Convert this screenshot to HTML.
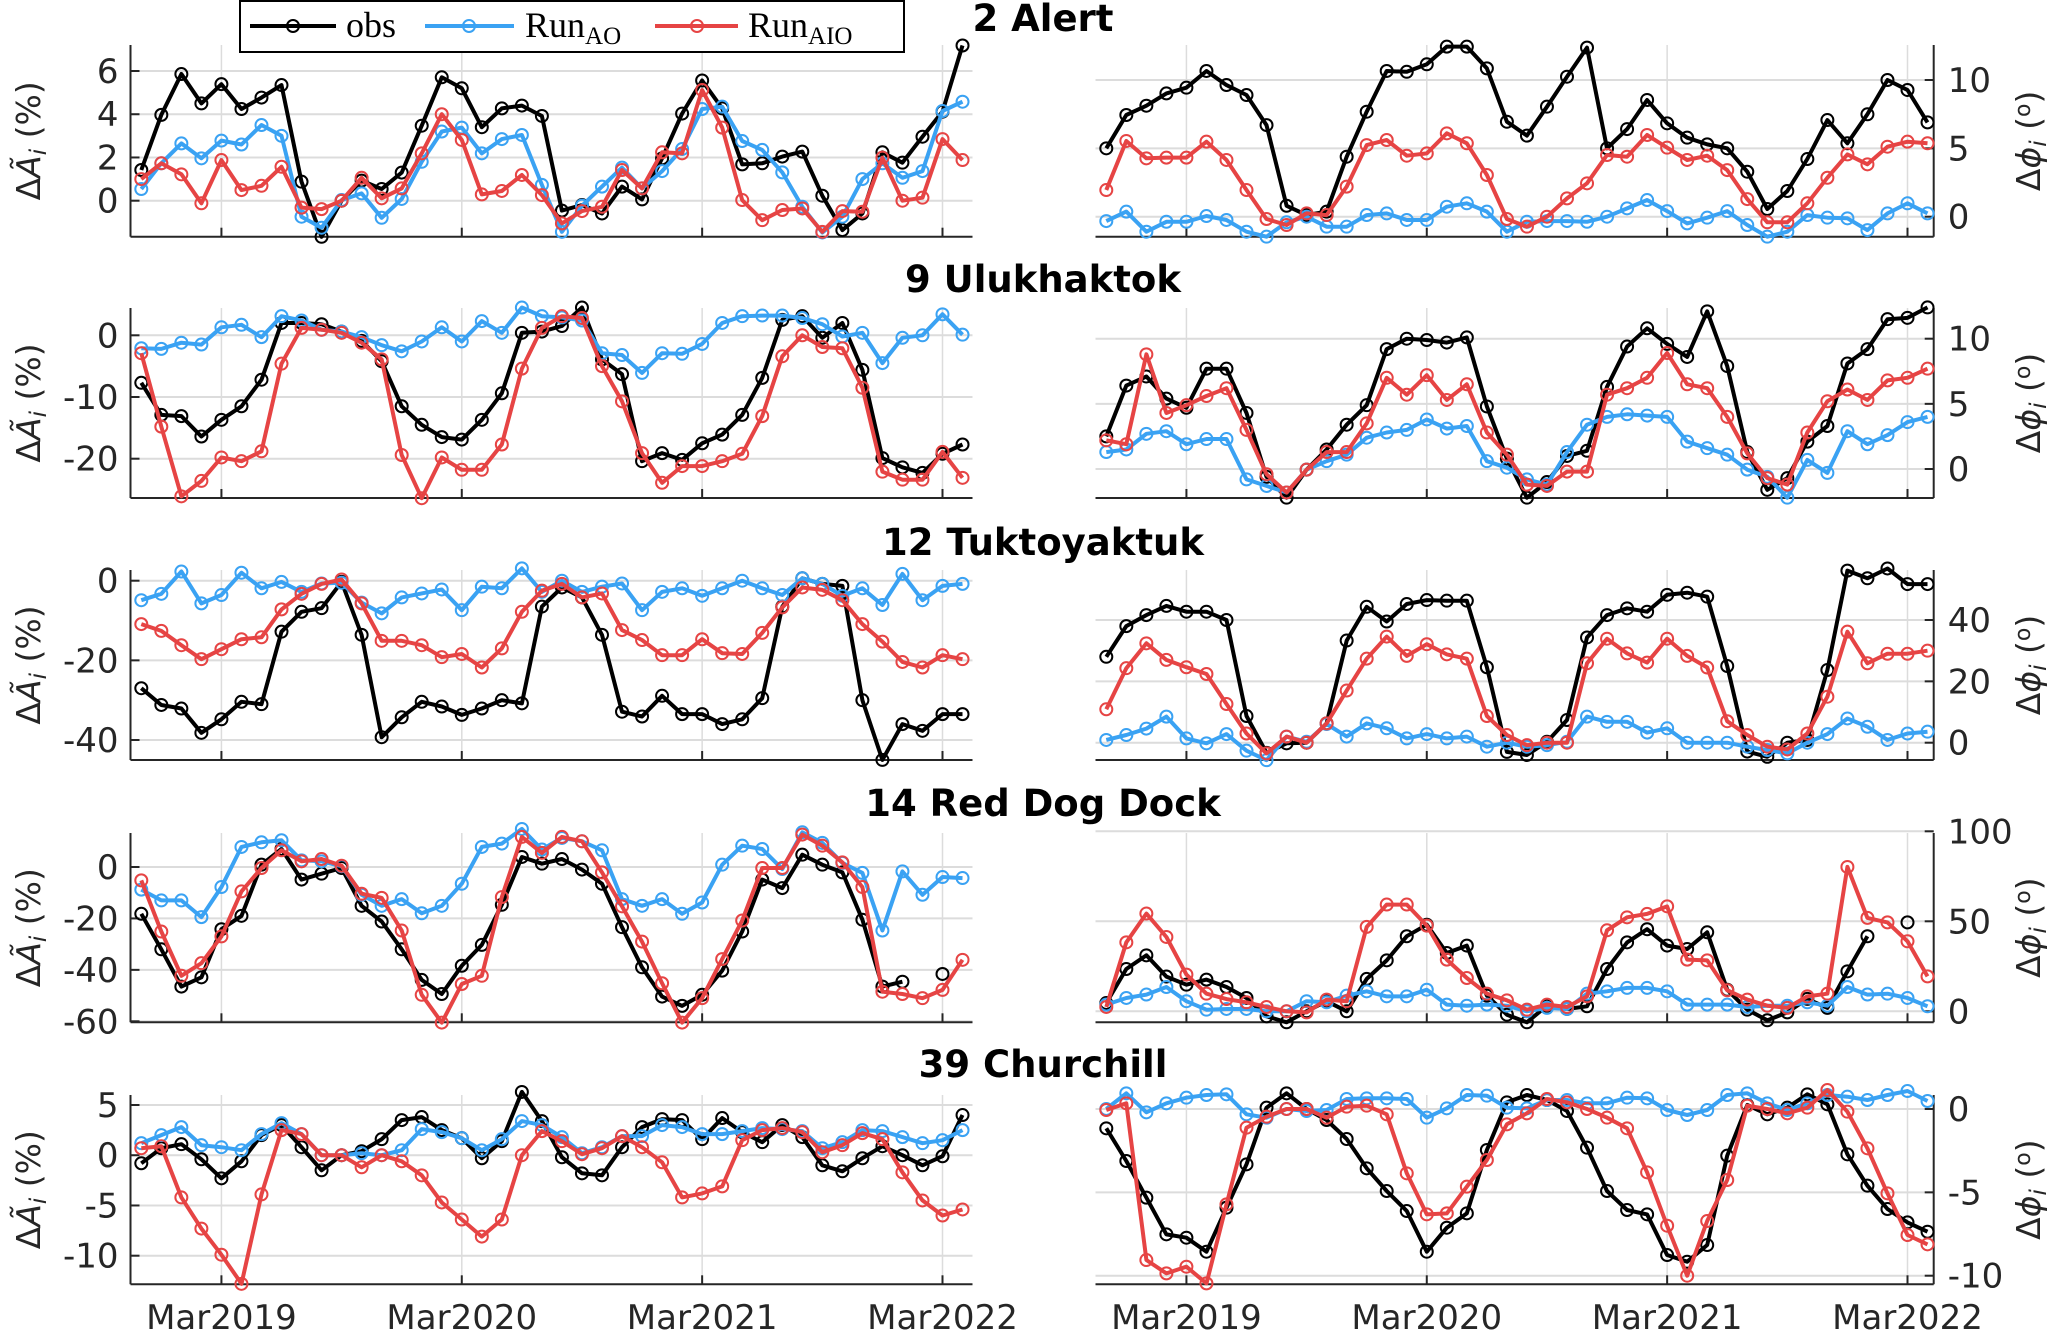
<!DOCTYPE html>
<html><head><meta charset="utf-8">
<style>
html,body{margin:0;padding:0;background:#fff;}
svg{display:block;}
text{font-family:"DejaVu Sans","Liberation Sans",sans-serif;}
</style></head>
<body>
<svg id="chart" xmlns="http://www.w3.org/2000/svg" width="2067" height="1332" viewBox="0 0 2067 1332">
  <g id="legend">
    <rect x="240" y="1" width="664" height="51" fill="#fff" stroke="#000" stroke-width="2"/>
    <g>
      <line x1="250" y1="26" x2="336" y2="26" stroke="#000" stroke-width="4"/>
      <circle cx="293" cy="26" r="6" fill="none" stroke="#000" stroke-width="2"/>
      <text x="346" y="37" style="font-family:'Liberation Serif',serif" font-size="36">obs</text>
    </g>
    <g>
      <line x1="425" y1="26" x2="514" y2="26" stroke="#3aa2f3" stroke-width="4"/>
      <circle cx="469" cy="26" r="6" fill="none" stroke="#3aa2f3" stroke-width="2"/>
      <text x="525" y="37" style="font-family:'Liberation Serif',serif" font-size="36">Run<tspan font-size="25" dy="7">AO</tspan></text>
    </g>
    <g>
      <line x1="655" y1="26" x2="738" y2="26" stroke="#e64444" stroke-width="4"/>
      <circle cx="697" cy="26" r="6" fill="none" stroke="#e64444" stroke-width="2"/>
      <text x="748" y="37" style="font-family:'Liberation Serif',serif" font-size="36">Run<tspan font-size="25" dy="7">AIO</tspan></text>
    </g>
  </g>
</svg>
<script>
// ---- data (month index 0 = Nov 2018) ----
const xTickMonths = [4, 16, 28, 40];
const xTickLabels = ['Mar2019', 'Mar2020', 'Mar2021', 'Mar2022'];
const stationNames = ['2 Alert', '9 Ulukhaktok', '12 Tuktoyaktuk', '14 Red Dog Dock', '39 Churchill'];

const alertAmpObs = [1.42,3.97,5.86,4.5,5.39,4.24,4.77,5.35,0.88,-1.67,0,0.93,0.54,1.3,3.47,5.71,5.2,3.4,4.27,4.4,3.92,-0.46,-0.2,-0.59,0.65,0.06,1.96,4.03,5.56,4.27,1.68,1.73,2.04,2.27,0.23,-1.36,-0.59,2.24,1.76,2.96,4.12,7.18];
const alertAmpAO = [0.54,1.73,2.65,1.96,2.78,2.6,3.5,3.0,-0.74,-1.25,0.03,0.34,-0.79,0.08,1.8,3.2,3.38,2.19,2.85,3.04,0.73,-1.44,-0.23,0.65,1.53,0.57,1.37,2.39,4.24,4.35,2.76,2.35,1.31,-0.28,-1.47,-0.74,1.0,1.73,1.06,1.37,4.15,4.58];
const alertAmpAIO = [1.0,1.73,1.22,-0.12,1.88,0.49,0.69,1.57,-0.32,-0.39,0,1.06,0.11,0.57,2.19,4.0,2.81,0.29,0.45,1.19,0.26,-1.05,-0.48,-0.28,1.42,0.57,2.24,2.19,5.12,3.38,0.03,-0.9,-0.43,-0.36,-1.44,-0.48,-0.51,1.99,0,0.14,2.85,1.88];
const alertPhaObs = [5.0,7.44,8.12,9.02,9.44,10.66,9.63,8.9,6.7,0.8,0.12,0.37,4.39,7.68,10.66,10.6,11.15,12.44,12.44,10.85,6.95,5.93,8.05,10.24,12.37,5.0,6.41,8.54,6.83,5.78,5.29,5.0,3.29,0.56,1.88,4.22,7.07,5.37,7.49,10.0,9.27,6.9];
const alertPhaAO = [-0.32,0.37,-1.1,-0.37,-0.37,0.05,-0.24,-1.1,-1.46,-0.41,0,-0.73,-0.73,0.12,0.24,-0.24,-0.24,0.73,0.98,0.37,-1.1,-0.37,-0.32,-0.32,-0.37,0,0.61,1.22,0.41,-0.49,-0.07,0.41,-0.61,-1.46,-1.1,0.12,-0.07,-0.12,-0.98,0.24,0.98,0.24];
const alertPhaAIO = [1.95,5.54,4.27,4.32,4.32,5.49,4.15,1.95,-0.17,-0.61,0.24,0.12,2.2,5.24,5.61,4.46,4.63,6.1,5.37,3.05,-0.17,-0.73,0,1.34,2.44,4.51,4.39,5.98,5.05,4.15,4.46,3.41,1.29,-0.41,-0.41,0.98,2.85,4.56,3.83,5.12,5.49,5.37];

const uluAmpObs = [-7.7,-12.9,-13.1,-16.4,-13.7,-11.5,-7.2,2.0,2.0,1.8,0.6,-0.9,-4.2,-11.5,-14.5,-16.5,-16.9,-13.7,-9.4,0.4,0.6,1.5,4.5,-3.9,-6.3,-20.4,-19.1,-20.2,-17.5,-16.1,-12.9,-6.9,2.5,3.1,-0.4,2.0,-5.6,-19.9,-21.4,-22.3,-19.2,-17.7];
const uluAmpAO = [-2.1,-2.2,-1.2,-1.5,1.3,1.7,-0.3,3.1,2.4,0.9,0.6,-0.3,-1.6,-2.6,-1.0,1.3,-1.0,2.3,0.4,4.5,3.1,2.9,2.4,-2.9,-3.2,-6.1,-2.9,-3.0,-1.4,2.0,3.1,3.2,3.2,2.8,1.8,-0.2,0.4,-4.5,-0.4,0,3.4,0.1];
const uluAmpAIO = [-2.9,-14.8,-26.1,-23.6,-19.8,-20.4,-18.8,-4.6,1.2,0.9,0.4,-1.2,-3.9,-19.4,-26.4,-19.8,-21.8,-21.8,-17.7,-5.4,1.2,3.1,2.8,-5.0,-10.7,-19.1,-23.9,-21.2,-21.2,-20.4,-19.2,-13.1,-3.4,0,-1.9,-2.1,-8.5,-22.1,-23.4,-23.4,-18.9,-23.1];
const uluPhaObs = [2.5,6.4,7.1,5.4,4.7,7.7,7.7,4.3,-0.6,-2.2,-0.05,1.5,3.4,4.9,9.2,10.0,9.9,9.7,10.1,4.8,0.8,-2.2,-1.0,1.0,1.4,6.3,9.4,10.8,9.6,8.6,12.1,7.9,1.3,-1.6,-0.7,2.1,3.3,8.1,9.2,11.5,11.6,12.4];
const uluPhaAO = [1.3,1.5,2.7,2.9,1.9,2.3,2.3,-0.8,-1.3,-1.8,-0.05,0.6,1.1,2.4,2.8,3.0,3.8,3.1,3.3,0.6,0.1,-0.8,-1.2,1.3,3.4,4.0,4.2,4.1,4.0,2.1,1.6,1.1,-0.05,-0.6,-2.2,0.7,-0.3,2.9,1.9,2.6,3.6,4.0];
const uluPhaAIO = [2.2,1.9,8.8,4.3,4.9,5.6,6.2,3.0,-0.4,-1.8,-0.05,1.3,1.3,3.5,7.0,5.7,7.2,5.3,6.5,2.8,1.1,-1.2,-1.3,-0.2,-0.2,5.7,6.2,7.0,8.9,6.5,6.2,4.0,1.2,-0.7,-1.2,2.8,5.2,6.1,5.3,6.8,7.0,7.7];

const tukAmpObs = [-27,-31.2,-32.1,-38.2,-34.8,-30.4,-31,-12.8,-7.8,-6.9,-0.3,-13.6,-39.3,-34.3,-30.4,-31.6,-33.7,-32.1,-30,-30.8,-6.5,-1.7,-4.2,-13.6,-32.9,-34.1,-28.9,-33.5,-33.5,-36,-34.8,-29.5,-6.5,0.6,-0.8,-1.3,-30,-45,-36,-37.7,-33.5,-33.5];
const tukAmpAO = [-4.9,-3.3,2.3,-5.7,-3.6,2,-1.9,-0.3,-2.8,-0.7,-0.5,-5.5,-8.2,-4.2,-3.2,-2.2,-7.4,-1.5,-1.9,3.1,-2.8,0,-2.8,-1.5,-0.7,-7.4,-2.8,-1.9,-3.8,-1.9,0,-1.9,-3.6,0.6,-0.8,-3.8,-1.9,-6.1,1.7,-4.9,-1.3,-0.8];
const tukAmpAIO = [-10.9,-12.6,-16.2,-19.7,-17.2,-14.7,-14.2,-7.2,-3.3,-0.8,0.3,-5.7,-15.1,-15.1,-16.2,-19.2,-18.4,-21.8,-17,-7.8,-2.5,-0.8,-4.2,-3.2,-12.4,-14.9,-18.7,-18.7,-14.7,-18.2,-18.4,-13.1,-6.7,-1.7,-2.3,-4.9,-10.9,-15.3,-20.4,-21.8,-18.7,-19.7];
const tukPhaObs = [28.0,38.0,41.6,44.6,42.7,42.7,40.0,8.7,-3.3,-0.2,0,6.3,33.3,44.3,39.5,45.2,46.5,46.3,46.3,24.6,-3.0,-4.0,0.3,7.4,34.3,41.6,43.8,42.7,48.2,48.9,47.6,25.0,-2.9,-4.6,0,0.9,23.7,56.1,53.6,56.8,51.7,51.7];
const tukPhaAO = [0.9,2.5,4.6,8.5,1.4,-0.2,2.8,-2.6,-5.7,2.0,0.3,6.1,2.0,6.3,4.7,1.4,2.8,1.4,2.0,-1.3,0,-1.3,-0.8,0.3,8.5,6.8,6.8,3.3,4.7,0,0,0,-1.3,-2.4,-3.5,0,2.8,7.9,5.2,0.9,3.0,3.6];
const tukPhaAIO = [10.9,24.3,32.4,27.0,24.6,22.4,12.6,3.0,-3.5,2.0,0,6.3,17.0,27.4,34.6,28.3,32.1,28.8,27.4,8.7,2.5,-0.8,0,0,25.9,33.9,29.1,26.1,33.9,28.3,24.5,7.0,2.5,-1.3,-2.2,3.0,15.0,36.2,25.9,29.0,29.0,30.0];

const rddAmpObs = [-18.2,-32,-46.5,-42.9,-24.2,-19.0,0.9,7.0,-4.9,-2.6,-0.4,-15.1,-21.2,-32.0,-43.9,-49.4,-38.4,-30.3,-14.7,3.9,1.3,3.1,-1.0,-6.5,-23.4,-39.0,-50.4,-54.0,-49.7,-40.3,-25.1,-4.9,-8.2,4.8,0.9,-2.1,-20.5,-46.5,-44.6,null,-41.6,null];
const rddAmpAO = [-8.8,-13,-13,-19.5,-7.8,7.8,9.6,10.4,2.6,2.2,0.3,-10.8,-15.1,-12.5,-18,-15.1,-6.5,7.8,9.1,14.8,6.8,11.3,10.0,6.5,-12.5,-15.1,-12.5,-18.2,-13.8,0.9,8.3,7.0,-0.8,13.5,9.4,1.6,-2.3,-24.7,-1.7,-10.8,-3.9,-4.3];
const rddAmpAIO = [-5.2,-25.1,-42.3,-37.4,-27,-9.5,-0.4,6.5,2.2,3.1,0.5,-10.4,-12.0,-24.7,-49.7,-60.5,-45.5,-42.3,-11.7,11.7,5.5,11.7,10.0,-2.1,-15.3,-29,-45.2,-60.5,-51.0,-35.8,-20.8,-0.4,-0.4,12.6,8.3,1.8,-7.8,-48.5,-49.4,-51.0,-47.8,-36.1];
const rddPhaObs = [4.6,23.5,31.1,19.3,14.8,17.6,13.5,7.4,-2.8,-6.1,0,5.6,0,18.0,28.3,41.7,48.1,32.4,36.5,8.7,-1.9,-6.1,3.1,1.3,2.8,23.5,38.3,45.6,36.5,34.6,43.9,12.0,0.9,-5.0,-0.6,6.9,1.9,22.2,41.7,null,49.4,null];
const rddPhaAO = [3.7,7.4,9.3,13.5,5.6,0.9,1.3,1.3,0,0,5.6,5,8.7,11.1,8.3,8.3,12,3.7,3.1,3.7,3.1,0,1.9,1.3,9.8,11.1,13,13,11.1,3.7,3.7,3.7,2.4,3.1,3.1,5,3.1,13.5,9.3,9.8,7.4,2.8];
const rddPhaAIO = [2.4,38.3,54.3,41.3,20.4,9.8,6.8,5.0,2.4,0,-0.6,6.5,5.6,46.9,59.3,59.3,47.6,28.7,18.5,9.8,6.1,0.9,3.7,2.4,8.3,45,52.2,54.1,58.3,28.7,28.3,11.7,6.5,3.1,1.9,8.3,9.8,80.2,51.9,49.4,38.9,19.4];

const chuAmpObs = [-0.8,0.7,1.1,-0.4,-2.3,-0.6,2.0,3.0,0.8,-1.5,0,0.4,1.6,3.5,3.8,2.5,1.7,-0.3,1.4,6.3,3.4,-0.2,-1.8,-2.0,0.8,2.8,3.6,3.5,1.6,3.7,2.3,1.3,3.0,1.8,-1.0,-1.6,-0.3,0.9,0,-1.0,-0.1,4.0];
const chuAmpAO = [1.2,2.0,2.8,1.0,0.8,0.5,2.1,3.2,2.1,0,0,0.2,0,0.5,2.6,2.3,1.7,0.5,1.6,3.4,3.0,1.8,0.2,0.8,1.9,1.9,3.0,2.8,2.1,2.1,2.4,2.7,2.6,2.4,0.7,1.3,2.5,2.4,1.8,1.2,1.5,2.5];
const chuAmpAIO = [0.7,0.9,-4.2,-7.3,-9.9,-12.8,-3.9,2.5,2.1,0,0,-1.2,0,-0.6,-2.0,-4.7,-6.4,-8.1,-6.4,0,2.4,1.4,0.1,0.7,1.9,0.8,-0.7,-4.2,-3.8,-3.1,1.5,2.5,2.7,2.3,0.3,1.0,2.2,1.6,-1.7,-4.5,-6.0,-5.4];
const chuPhaObs = [-1.16,-3.12,-5.32,-7.52,-7.72,-8.56,-5.92,-3.32,0.08,0.94,0,-0.66,-1.8,-3.56,-4.92,-6.12,-8.56,-7.12,-6.26,-2.46,0.4,0.84,0.54,-0.12,-2.32,-4.92,-6.06,-6.32,-8.76,-9.16,-8.16,-2.8,0.24,-0.32,0.08,0.88,0.28,-2.72,-4.6,-6.0,-6.8,-7.36];
const chuPhaAO = [0,0.94,-0.2,0.34,0.68,0.84,0.88,-0.32,-0.52,0,-0.12,-0.06,0.6,0.64,0.64,0.6,-0.52,0.04,0.84,0.8,0.08,0.04,0.54,0.54,0.34,0.34,0.68,0.64,-0.06,-0.36,-0.06,0.84,0.94,0.34,-0.06,0.34,0.84,0.74,0.54,0.84,1.08,0.48];
const chuPhaAIO = [-0.06,0.34,-9.06,-9.86,-9.46,-10.46,-5.72,-1.12,-0.46,0,0,-0.52,0.14,0.2,-0.32,-3.86,-6.32,-6.26,-4.66,-3.06,-0.92,-0.26,0.6,0.4,0,-0.52,-1.16,-3.8,-7.0,-10.0,-6.72,-4.26,0.2,0,-0.26,0.08,1.14,-0.16,-2.36,-5.06,-7.56,-8.12];

const ampTicks = [[0,2,4,6],[-20,-10,0],[-40,-20,0],[-60,-40,-20,0],[-10,-5,0,5]];
const phaTicks = [[0,5,10],[0,5,10],[0,20,40],[0,50,100],[-10,-5,0]];

// ---- layout (pixel geometry, not data) ----
const NS = 'http://www.w3.org/2000/svg';
const svg = document.getElementById('chart');
const COL = {obs:'#000000', ao:'#3aa2f3', aio:'#e64444'};
const layout = [
  {top:45, bottom:236.7, title:31, L:[0,200.7,6,71], R:[0,216.7,10,80]},
  {top:308, bottom:498, title:292, L:[0,335.3,-20,458.7], R:[0,469,10,338.7]},
  {top:570, bottom:760, title:555, L:[0,580.7,-40,740], R:[0,742.7,40,620]},
  {top:833, bottom:1022.3, title:816, L:[0,867,-60,1021.3], R:[0,1011.3,100,831.3]},
  {top:1095, bottom:1284.3, title:1077, L:[5,1105,-10,1255.7], R:[0,1109,-10,1275.7]}
];
const seriesSets = [
  [alertAmpObs, alertAmpAO, alertAmpAIO, alertPhaObs, alertPhaAO, alertPhaAIO],
  [uluAmpObs, uluAmpAO, uluAmpAIO, uluPhaObs, uluPhaAO, uluPhaAIO],
  [tukAmpObs, tukAmpAO, tukAmpAIO, tukPhaObs, tukPhaAO, tukPhaAIO],
  [rddAmpObs, rddAmpAO, rddAmpAIO, rddPhaObs, rddPhaAO, rddPhaAIO],
  [chuAmpObs, chuAmpAO, chuAmpAIO, chuPhaObs, chuPhaAO, chuPhaAIO]
];
const xLeft = m => 141.3 + 20.03 * m;
const xRight = m => 1106.3 + 20.03 * m;
const LX0 = 130.5, LX1 = 972.5, RX0 = 1095.5, RX1 = 1933.7;
function yScale(c){ return v => c[1] + (v - c[0]) * (c[3] - c[1]) / (c[2] - c[0]); }
function mk(tag, attrs, parent){
  const e = document.createElementNS(NS, tag);
  for (const k in attrs) e.setAttribute(k, attrs[k]);
  (parent || svg).appendChild(e);
  return e;
}

function drawAxis(p, side){
  const L = layout[p];
  const isLeft = side === 'L';
  const xs = isLeft ? xLeft : xRight;
  const x0 = isLeft ? LX0 : RX0, x1 = isLeft ? LX1 : RX1;
  const ys = yScale(L[side]);
  const ticks = isLeft ? ampTicks[p] : phaTicks[p];
  const g = mk('g', {});
  
  
  xTickMonths.forEach(m => {
    const gl = mk('line', {x1:xs(m), x2:xs(m), y1:L.top, y2:L.bottom, stroke:'#dcdcdc', 'stroke-width':1.5}, g);
    
    
  });
  ticks.forEach(t => {
    const gl = mk('line', {x1:x0, x2:x1, y1:ys(t), y2:ys(t), stroke:'#dcdcdc', 'stroke-width':2}, g);
    
    
  });
  const bx = mk('line', {x1:x0, x2:x1, y1:L.bottom, y2:L.bottom, stroke:'#262626', 'stroke-width':2}, g);
  
  
  const sx = isLeft ? x0 : x1;
  const by = mk('line', {x1:sx, x2:sx, y1:L.top, y2:L.bottom, stroke:'#262626', 'stroke-width':2}, g);
  
  
  xTickMonths.forEach((m, i) => {
    mk('line', {x1:xs(m), x2:xs(m), y1:L.bottom, y2:L.bottom-9, stroke:'#262626', 'stroke-width':2}, g);
    if (p === 4) {
      const tl = mk('text', {x:xs(m), y:1329, 'text-anchor':'middle', 'font-size':34, fill:'#262626'}, g);
      tl.textContent = xTickLabels[i];
      
      
    }
  });
  ticks.forEach(t => {
    const y = ys(t);
    mk('line', {x1:sx, x2:isLeft ? sx+9 : sx-9, y1:y, y2:y, stroke:'#262626', 'stroke-width':2}, g);
    const tl = mk('text', {x:isLeft ? sx-12 : sx+14, y:y+12, 'text-anchor':isLeft ? 'end' : 'start', 'font-size':34, fill:'#262626'}, g);
    tl.textContent = t;
    
    
  });
  const cy = (L.top + L.bottom) / 2;
  const tx = isLeft ? 40 : 2040;
  const yt = mk('text', {x:tx, y:cy, 'text-anchor':'middle', 'font-size':33, fill:'#262626', transform:'rotate(-90 '+tx+' '+cy+')'}, g);
  if (isLeft) {
    yt.innerHTML = 'Δ<tspan font-style="italic">Ã</tspan><tspan font-style="italic" font-size="23" dy="6">i</tspan><tspan dy="-6"> (%)</tspan>';
  } else {
    yt.innerHTML = 'Δ<tspan font-style="italic">ϕ</tspan><tspan font-style="italic" font-size="23" dy="6">i</tspan><tspan dy="-6"> (</tspan><tspan font-size="22" dy="-10">o</tspan><tspan dy="10">)</tspan>';
  }
  
  
  const sets = seriesSets[p];
  const base = isLeft ? 0 : 3;
  const keys = ['obs', 'ao', 'aio'];
  keys.forEach((k, si) => {
    const data = sets[base + si];
    const sg = mk('g', {}, g);
    
    
    let d = '', pen = false;
    data.forEach((v, m) => {
      if (v === null) { pen = false; return; }
      d += (pen ? 'L' : 'M') + xs(m).toFixed(1) + ' ' + ys(v).toFixed(1) + ' ';
      pen = true;
    });
    const path = mk('path', {d:d, fill:'none', stroke:COL[k], 'stroke-width':4, 'stroke-linejoin':'round'}, sg);
    
    
    data.forEach((v, m) => {
      if (v === null) return;
      const c = mk('circle', {cx:xs(m), cy:ys(v), r:6, fill:'none', stroke:COL[k], 'stroke-width':2}, sg);
      
      
    });
  });
}

for (let p = 0; p < 5; p++) {
  drawAxis(p, 'L');
  drawAxis(p, 'R');
  const t = mk('text', {x:1043, y:layout[p].title, 'text-anchor':'middle', 'font-size':37, 'font-weight':'bold', fill:'#000'});
  t.textContent = stationNames[p];
  
  
}
svg.appendChild(document.getElementById('legend'));
</script>
</body></html>
